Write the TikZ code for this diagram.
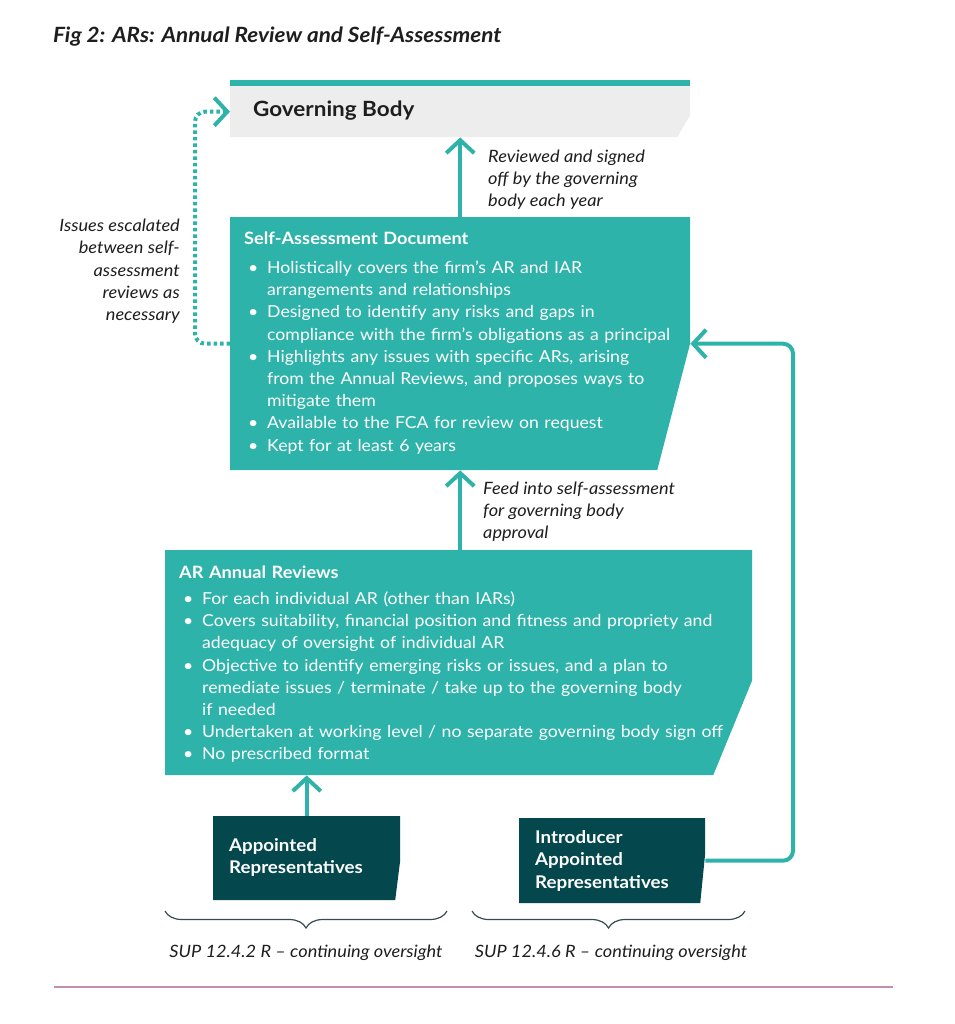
\documentclass[tikz,border=0pt]{standalone}
\usepackage{fontspec}
\setmainfont{Lato}[FakeStretch=1.07]
\usetikzlibrary{arrows.meta,positioning,calc,decorations.pathreplacing}

\definecolor{fcateal}{RGB}{46,179,170}
\definecolor{fcadark}{RGB}{4,72,78}
\definecolor{fcagrey}{RGB}{237,237,237}
\definecolor{fcamauve}{RGB}{196,143,174}
\definecolor{fcabrace}{RGB}{55,75,78}
\definecolor{fcaink}{RGB}{30,30,30}

% filled box with the lower right corner cut off: colour, cut height, cut width
\newcommand\cutshape[3]{\fill[#1] (path picture bounding box.north west)
  -- (path picture bounding box.north east)
  -- ([yshift=#2]path picture bounding box.south east)
  -- ([xshift=-#3]path picture bounding box.south east)
  -- (path picture bounding box.south west) -- cycle;}
% bullet point with hanging indent
\newcommand\bitem[1]{\par\hangindent=23pt\hangafter=1\noindent\makebox[23pt][l]{\hspace{4pt}\textbullet}#1}
\newcommand\boxfont{\fontsize{16.5}{22.2}\selectfont}
\newcommand\headfont{\fontsize{17}{22.2}\selectfont\bfseries}
\newcommand\lblfont{\fontsize{17}{22.2}\selectfont\itshape}

\begin{document}
\begin{tikzpicture}[x=1pt,y=-1pt,
	box/.style={inner sep=0pt, anchor=north west},
	gbbox/.style={box, minimum width=460pt, minimum height=51pt, path picture={\cutshape{fcagrey}{22pt}{13pt}}},
	tealbox/.style 2 args={box, path picture={\cutshape{fcateal}{#1}{#2}}},
	darkbox/.style 2 args={box, path picture={\cutshape{fcadark}{#1}{#2}}},
	txt/.style={inner sep=0pt, anchor=north west, align=left, font=\boxfont, text=white},
	lbl/.style={inner sep=0pt, font=\lblfont, text=fcaink},
	flow/.style={draw=fcateal, line width=4pt, -{Straight Barb[length=13pt,width=28pt]}},
	dotflow/.style={dash pattern=on 3.5pt off 3pt},
	brace/.style={decorate, decoration={brace, mirror, amplitude=17pt}, draw=fcabrace, line width=1.2pt}]
	\useasboundingbox (0,0) rectangle (954,1024);

	\node[anchor=base west, inner sep=0pt, text=fcaink, font=\fontsize{21}{24}\selectfont\bfseries\itshape] (title) at (53,43) {Fig 2: ARs: Annual Review and Self-Assessment};

	% boxes
	\node[gbbox] (gb) at (230,86) {};
	\fill[fcateal] (gb.north west) rectangle ([yshift=6pt]gb.north east);
	\node[anchor=base west, inner sep=0pt, text=fcaink, font=\fontsize{21}{24}\selectfont\bfseries] (gbtxt) at (253,117) {Governing Body};

	\node[tealbox={127pt}{33pt}, minimum width=460pt, minimum height=253pt] (sa) at (230,217) {};
	\node[txt, text width=455pt] (satxt) at (244,231.5) {{\headfont Self-Assessment Document}\par\vspace{7pt}
	\bitem{Holistically covers the firm’s AR and IAR\newline arrangements and relationships}
	\bitem{Designed to identify any risks and gaps in\newline compliance with the firm’s obligations as a principal}
	\bitem{Highlights any issues with specific ARs, arising\newline from the Annual Reviews, and proposes ways to\newline mitigate them}
	\bitem{Available to the FCA for review on request}
	\bitem{Kept for at least 6 years}};

	\node[tealbox={95pt}{39pt}, minimum width=587pt, minimum height=225pt] (ar) at (165,550) {};
	\node[txt, text width=580pt] (artxt) at (179,565.5) {{\headfont AR Annual Reviews}\par\vspace{4pt}
	\bitem{For each individual AR (other than IARs)}
	\bitem{Covers suitability, financial position and fitness and propriety and\newline adequacy of oversight of individual AR}
	\bitem{Objective to identify emerging risks or issues, and a plan to\newline remediate issues / terminate / take up to the governing body\newline if needed}
	\bitem{Undertaken at working level / no separate governing body sign off}
	\bitem{No prescribed format}};

	\node[darkbox={40pt}{5pt}, minimum width=187pt, minimum height=84pt] (ap) at (213,816) {};
	\node[txt, font=\fontsize{17.5}{22.2}\selectfont\bfseries] (aptxt) at (229,838.5) {Appointed\\Representatives};

	\node[darkbox={50pt}{5pt}, minimum width=186pt, minimum height=85pt] (iar) at (519,818) {};
	\node[txt, font=\fontsize{17.5}{22.2}\selectfont\bfseries] (iartxt) at (535,830.5) {Introducer\\Appointed\\Representatives};

	% connectors
	\coordinate (loopl) at (195,0);
	\coordinate (loopr) at (793,0);
	\draw[flow] (sa.north) -- (gb.south);
	\draw[flow] (ar.north -| sa.south) -- (sa.south);
	\draw[flow] (ap.north) -- (ap.north |- ar.south);
	\draw[flow, rounded corners=10pt] (iar.east) -- (iar.east -| loopr) -- (sa.east -| loopr) -- (sa.east);
	\draw[flow, dotflow, rounded corners=10pt] (sa.west) -- (sa.west -| loopl) -- (gb.west -| loopl) -- (gb.west);

	% labels
	\node[lbl, anchor=north west, align=left] (lblsign) at (488,149.5) {Reviewed and signed\\off by the governing\\body each year};
	\node[lbl, anchor=north east, align=right] (lblesc) at (180,219) {Issues escalated\\between self-\\assessment\\reviews as\\necessary};
	\node[lbl, anchor=north west, align=left] (lblfeed) at (483,481.5) {Feed into self-assessment\\for governing body\\approval};

	% oversight braces
	\coordinate (bl1) at (165,911);
	\coordinate (bl2) at (447,911);
	\coordinate (br1) at (472,911);
	\coordinate (br2) at (745,911);
	\draw[brace] (bl1) -- (bl2);
	\draw[brace] (br1) -- (br2);
	\node[lbl, anchor=base] (sup1) at (306,957) {SUP 12.4.2 R – continuing oversight};
	\node[lbl, anchor=base] (sup2) at (611,957) {SUP 12.4.6 R – continuing oversight};

	\draw[fcamauve, line width=2.5pt] (54,987) -- (893,987);
\end{tikzpicture}
\end{document}
